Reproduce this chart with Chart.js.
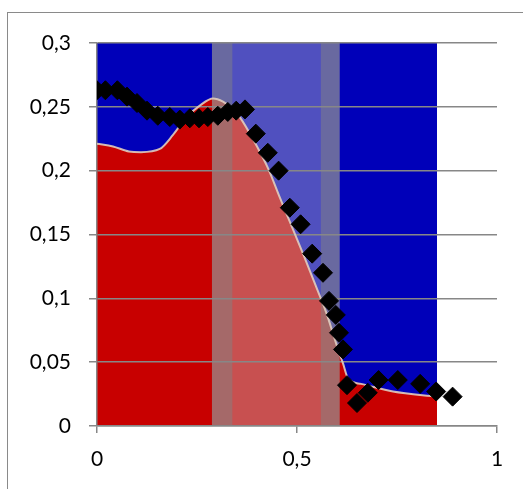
<!DOCTYPE html>
<html>
<head>
<meta charset="utf-8">
<script src="https://cdn.jsdelivr.net/npm/chart.js@4"></script>
<style>
  body { margin: 0; background: #fff; }
  #wrap { position: relative; width: 523px; height: 489px; overflow: hidden; }
  #frame { position: absolute; left: 7px; top: 12px; width: 700px; height: 700px;
           border-left: 1px solid #8a8a8a; border-top: 1px solid #8a8a8a; }
  canvas { position: absolute; left: 0; top: 0; }
</style>
</head>
<body>
<div id="wrap">
  <div id="frame"></div>
  <canvas id="chart" width="523" height="489"></canvas>
</div>
<script>
// measured profile (diamonds)
var pointX = [0, 0.021, 0.051, 0.075, 0.100, 0.125, 0.152, 0.182, 0.207, 0.232, 0.255, 0.277,
  0.302, 0.327, 0.348, 0.370, 0.397, 0.427, 0.454, 0.482, 0.509, 0.538, 0.565, 0.580,
  0.597, 0.605, 0.615, 0.625, 0.650, 0.677, 0.704, 0.752, 0.808, 0.848, 0.889];
var pointY = [0.263, 0.263, 0.263, 0.258, 0.253, 0.247, 0.243, 0.242, 0.240, 0.241, 0.241, 0.242,
  0.243, 0.246, 0.247, 0.248, 0.229, 0.214, 0.200, 0.171, 0.158, 0.135, 0.120, 0.098,
  0.087, 0.073, 0.060, 0.032, 0.018, 0.026, 0.036, 0.036, 0.033, 0.027, 0.023];

// boundary of the red phase
var redX = [0, 0.04, 0.08, 0.11, 0.157, 0.19, 0.224, 0.257, 0.29, 0.315, 0.34, 0.357, 0.394,
  0.428, 0.457, 0.482, 0.515, 0.548, 0.573, 0.598, 0.615, 0.628, 0.66, 0.74, 0.85];
var redY = [0.221, 0.219, 0.215, 0.2145, 0.217, 0.228, 0.242, 0.251, 0.2565, 0.254, 0.248, 0.242, 0.2225,
  0.2016, 0.179, 0.160, 0.135, 0.109, 0.089, 0.0645, 0.049, 0.037, 0.033, 0.027, 0.023];

// blue phase extent
var blueX = [0, 0.85];
var blueTop = 0.3;

// grey band: dark edge | light middle | dark edge
var bandEdges = [0.287, 0.339, 0.559, 0.607];

var xTicks = [0, 0.5, 1];
var yTicks = [0, 0.05, 0.1, 0.15, 0.2, 0.25, 0.3];

function xy(xs, ys) {
  return xs.map(function (x, i) { return { x: x, y: ys[i] }; });
}
function rect(x0, x1, top) {
  return [{ x: x0, y: top }, { x: x1, y: top }];
}
function area(data, color) {
  return {
    data: data,
    showLine: true,
    fill: 'origin',
    backgroundColor: color,
    borderWidth: 0,
    pointRadius: 0
  };
}
function comma(v) {
  return String(Math.round(v * 100) / 100).replace('.', ',');
}

var gridColor = '#878787';
var font = { family: 'Lato', size: 21 };
var edgeShade = 'rgba(130,130,130,0.5)';

var ctx = document.getElementById('chart').getContext('2d');
var myChart = new Chart(ctx, {
  type: 'scatter',
  data: {
    datasets: [
      {
        data: xy(pointX, pointY),
        pointStyle: 'rectRot',
        pointRadius: 9.5,
        backgroundColor: '#000',
        borderColor: '#000',
        borderWidth: 1
      },
      // darker edges sit on top of the light band
      area(rect(bandEdges[0], bandEdges[1], blueTop), edgeShade),
      area(rect(bandEdges[2], bandEdges[3], blueTop), edgeShade),
      area(rect(bandEdges[0], bandEdges[3], blueTop), 'rgba(200,200,200,0.4)'),
      Object.assign(area(xy(redX, redY), '#c80000'), {
        borderWidth: 2,
        borderColor: 'rgba(225,205,190,0.9)',
        tension: 0.4,
        cubicInterpolationMode: 'monotone'
      }),
      area(rect(blueX[0], blueX[1], blueTop), '#0000b9')
    ]
  },
  options: {
    responsive: false,
    animation: false,
    devicePixelRatio: 1,
    layout: { padding: { left: 0, top: 43, right: 26, bottom: 0 } },
    plugins: {
      legend: { display: false },
      tooltip: { enabled: false },
      filler: { drawTime: 'beforeDraw' }
    },
    scales: {
      x: {
        type: 'linear',
        min: 0,
        max: 1,
        afterBuildTicks: function (s) { s.ticks = xTicks.map(function (v) { return { value: v }; }); },
        afterFit: function (s) { s.height = 63; },
        grid: { drawOnChartArea: false, drawTicks: true, tickLength: 7, color: gridColor, lineWidth: 1.5 },
        border: { color: gridColor, width: 1.5 },
        ticks: { padding: 14, color: '#000', font: font, maxRotation: 0, callback: comma }
      },
      y: {
        min: 0,
        max: 0.3,
        afterBuildTicks: function (s) { s.ticks = yTicks.map(function (v) { return { value: v }; }); },
        afterFit: function (s) { s.width = 97; },
        grid: { tickLength: 8, color: gridColor, lineWidth: 1.5 },
        border: { color: gridColor, width: 1.5 },
        ticks: { padding: 18, color: '#000', font: font, callback: comma }
      }
    }
  }
});
</script>
</body>
</html>
